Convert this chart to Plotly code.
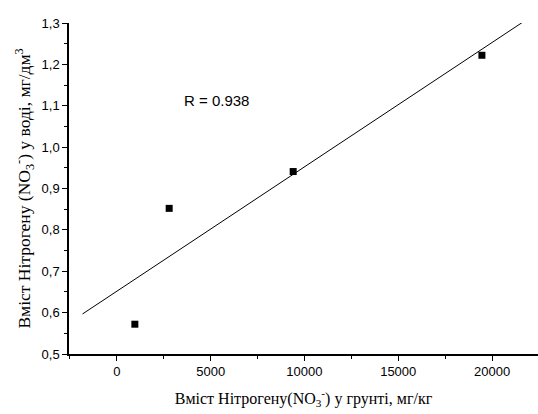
import numpy as np
import plotly.graph_objects as go

soil_n = [960, 2790, 9400, 19460]
water_n = [0.572, 0.852, 0.941, 1.222]
fit_x_range = [-1830, 21650]
r_label = "R = 0.938"
y_ticks = [0.5, 0.6, 0.7, 0.8, 0.9, 1.0, 1.1, 1.2, 1.3]
y_tick_labels = ["0,5", "0,6", "0,7", "0,8", "0,9", "1,0", "1,1", "1,2", "1,3"]
x_ticks = [0, 5000, 10000, 15000, 20000]
x_tick_labels = ["0", "5000", "10000", "15000", "20000"]

slope, intercept = np.polyfit(soil_n, water_n, 1)
fit_x = np.array(fit_x_range)
fit_y = slope * fit_x + intercept

fig = go.Figure()
fig.add_trace(go.Scatter(x=fit_x, y=fit_y, mode="lines",
                         line=dict(color="black", width=1), showlegend=False))
fig.add_trace(go.Scatter(x=soil_n, y=water_n, mode="markers",
                         marker=dict(symbol="square", size=7, color="black"),
                         showlegend=False))
fig.add_annotation(x=3450, y=1.113, xref="x", yref="y", text=r_label,
                   showarrow=False, xanchor="left",
                   font=dict(family="Liberation Sans, Arial", size=15, color="black"))

fig.update_layout(
    width=538, height=414,
    margin=dict(l=69, r=0, t=23, b=60),
    paper_bgcolor="white", plot_bgcolor="white",
    font=dict(family="Liberation Sans, Arial", size=13, color="black"),
)
fig.update_xaxes(
    range=[-2550, 22450], tickvals=x_ticks, ticktext=x_tick_labels, ticks="outside", ticklen=5,
    tickwidth=1, tickcolor="black", showline=True, linecolor="black", linewidth=1.5,
    showgrid=False, zeroline=False,
    minor=dict(dtick=2500, tick0=0, ticks="outside", ticklen=3, tickcolor="black", showgrid=False),
    title=dict(text="Вміст Нітрогену(NO<sub>3</sub><sup>-</sup>) у грунті, мг/кг",
               font=dict(family="Liberation Serif, Times New Roman", size=16), standoff=14),
)
fig.update_yaxes(
    range=[0.5, 1.3], tickvals=y_ticks, ticktext=y_tick_labels, ticks="outside",
    ticklen=5, tickwidth=1, tickcolor="black", showline=True, linecolor="black",
    linewidth=1.5, showgrid=False, zeroline=False,
    minor=dict(dtick=0.05, tick0=0.5, ticks="outside", ticklen=3, tickcolor="black", showgrid=False),
    title=dict(text="Вміст Нітрогену (NO<sub>3</sub><sup>-</sup>) у воді, мг/дм<sup>3</sup>",
               font=dict(family="Liberation Serif, Times New Roman", size=17.5), standoff=6),
)
fig.write_html("out.html", config={"displayModeBar": False},
               post_script="document.body.style.margin='0';")
